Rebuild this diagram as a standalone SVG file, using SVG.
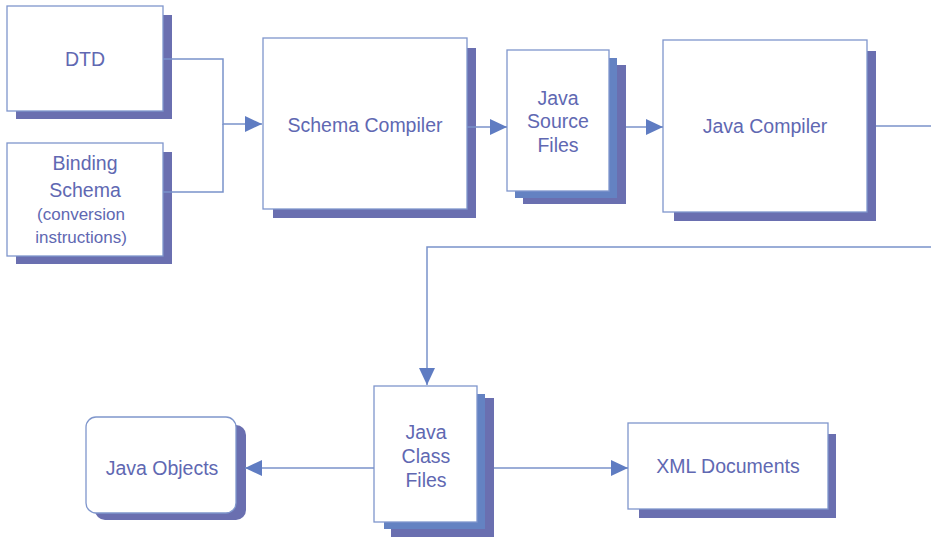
<svg xmlns="http://www.w3.org/2000/svg" width="931" height="538" viewBox="0 0 931 538">
<style>
.box{fill:#fff;stroke:#7f96cc;stroke-width:1.3}
.sh{fill:#6a6fb0}
.mid{fill:#6482c2}
.t{font-family:"Liberation Sans",Arial,sans-serif;font-size:19.5px;fill:#6068b2;text-anchor:middle}
.s{font-size:17px}
.c{fill:none;stroke:#7a92ca;stroke-width:1.5}
</style>
<defs>
<marker id="ah" markerUnits="userSpaceOnUse" markerWidth="17" markerHeight="16" refX="17" refY="8" orient="auto" viewBox="0 0 17 16">
<path d="M0,0 L17,8 L0,16 Z" fill="#5f7cc2"/>
</marker>
</defs>
<rect width="931" height="538" fill="#fff"/>
<g id="dtd">
<rect class="sh" x="16" y="15" width="156" height="104"/>
<rect class="box" x="7" y="6" width="156" height="105"/>
<text class="t" x="85" y="66">DTD</text>
</g>
<g id="binding">
<rect class="sh" x="16" y="152" width="156" height="112"/>
<rect class="box" x="7" y="143" width="156" height="113"/>
<text class="t" x="85" y="170">Binding</text>
<text class="t" x="85" y="197">Schema</text>
<text class="t s" x="81" y="220">(conversion</text>
<text class="t s" x="81" y="243">instructions)</text>
</g>
<g id="schema-compiler">
<rect class="sh" x="273" y="48" width="203" height="170"/>
<rect class="box" x="263" y="38" width="204" height="171"/>
<text class="t" x="365" y="132">Schema Compiler</text>
</g>
<g id="java-source">
<rect class="sh" x="523" y="65" width="103" height="139"/>
<rect class="mid" x="515" y="58" width="102" height="140"/>
<rect class="box" x="507" y="50" width="102" height="141"/>
<text class="t" x="558" y="105">Java</text>
<text class="t" x="558" y="128">Source</text>
<text class="t" x="558" y="152">Files</text>
</g>
<g id="java-compiler">
<rect class="sh" x="674" y="51" width="202" height="170"/>
<rect class="box" x="663" y="40" width="204" height="172"/>
<text class="t" x="765" y="133">Java Compiler</text>
</g>
<g id="java-class">
<rect class="sh" x="391" y="398" width="103" height="139"/>
<rect class="mid" x="384" y="394" width="101" height="135"/>
<rect class="box" x="374" y="386" width="103" height="136"/>
<text class="t" x="426" y="439">Java</text>
<text class="t" x="426" y="463">Class</text>
<text class="t" x="426" y="487">Files</text>
</g>
<g id="java-objects">
<rect class="sh" x="95" y="425" width="151" height="95" rx="10"/>
<rect class="box" x="86" y="417" width="150" height="96" rx="10"/>
<text class="t" x="162" y="475">Java Objects</text>
</g>
<g id="xml-docs">
<rect class="sh" x="639" y="434" width="197" height="84"/>
<rect class="box" x="628" y="423" width="200" height="86"/>
<text class="t" x="728" y="473">XML Documents</text>
</g>
<g id="connectors">
<path class="c" d="M163,59 H223 V124 H262" marker-end="url(#ah)"/>
<path class="c" d="M163,192 H223 V124"/>
<path class="c" d="M467,127 H507" marker-end="url(#ah)"/>
<path class="c" d="M626,127 H663" marker-end="url(#ah)"/>
<path class="c" d="M876,126 H931"/>
<path class="c" d="M931,247 H427 V385" marker-end="url(#ah)"/>
<path class="c" d="M374,468 H245" marker-end="url(#ah)"/>
<path class="c" d="M494,468 H628" marker-end="url(#ah)"/>
</g>
</svg>
